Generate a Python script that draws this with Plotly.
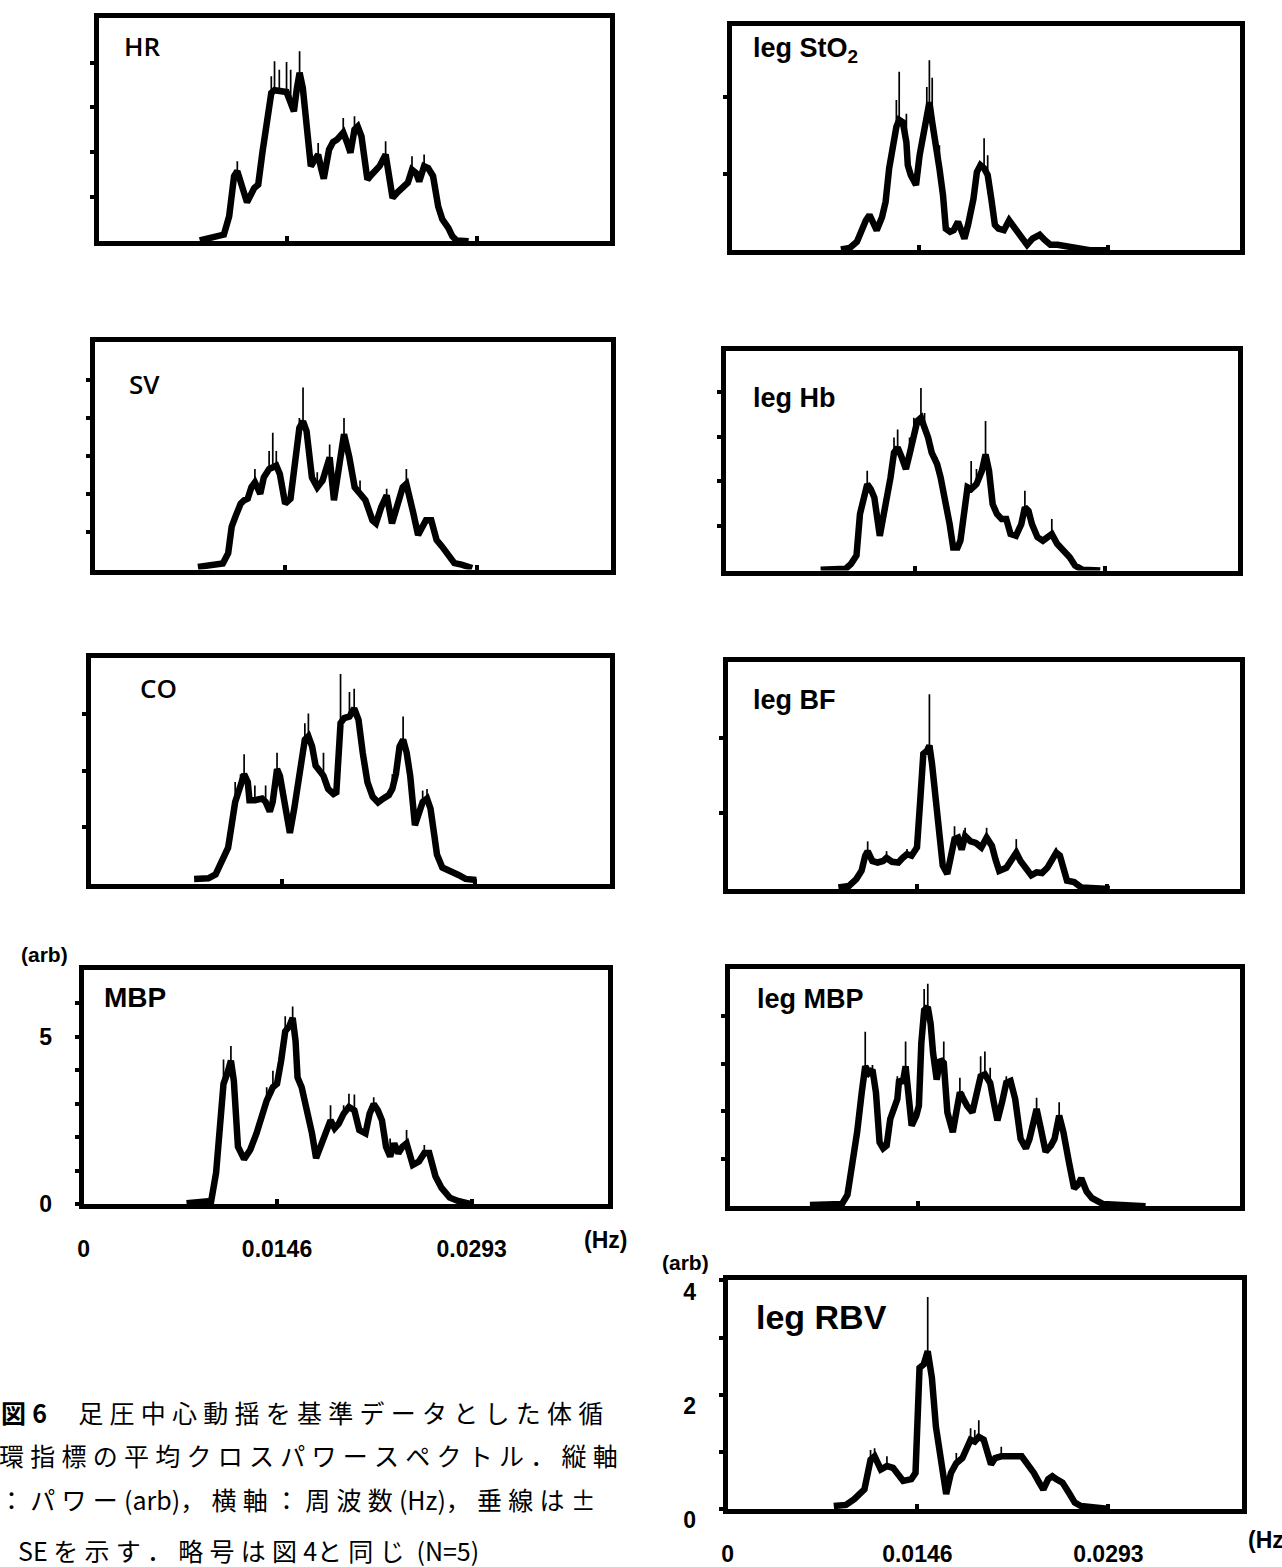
import plotly.graph_objects as go

W, H = 1282, 1567
YS = 1.014  # vertical placement calibration for pixel positions below

# ---------------- data: frequency (Hz), mean cross power (arb), +SE ----------------
hr_f = [0.00783, 0.00923, 0.00970, 0.01011, 0.01049, 0.01074, 0.01111, 0.01149, 0.01205, 0.01236,
        0.01268, 0.01299, 0.01337, 0.01362, 0.01399, 0.01455, 0.01487, 0.01512, 0.01534, 0.01556,
        0.01581, 0.01612, 0.01643, 0.01675, 0.01700, 0.01722, 0.01743, 0.01784, 0.01815, 0.01847,
        0.01894, 0.01925, 0.01950, 0.01981, 0.02006, 0.02035, 0.02081, 0.02113, 0.02175, 0.02222,
        0.02254, 0.02276, 0.02316, 0.02394, 0.02426, 0.02457, 0.02482, 0.02520, 0.02551, 0.02589,
        0.02629, 0.02661, 0.02707, 0.02739, 0.02770, 0.02864]
hr_p = [0.02, 0.11, 0.15, 0.56, 1.46, 1.57, 1.16, 0.87, 1.19, 1.27,
        1.98, 2.65, 3.32, 3.38, 3.36, 3.34, 3.10, 2.91, 3.40, 3.77,
        3.43, 2.57, 1.68, 1.83, 1.94, 1.64, 1.40, 2.05, 2.22, 2.28,
        2.43, 2.20, 1.98, 2.50, 2.57, 2.35, 1.38, 1.49, 1.68, 1.94,
        1.46, 0.97, 1.10, 1.31, 1.60, 1.53, 1.34, 1.68, 1.64, 1.46,
        0.78, 0.49, 0.30, 0.11, 0.02, 0.00]
hr_se = [0, 0, 0, 0, 0, 0.22, 0, 0, 0, 0,
         0, 0, 0.37, 0.65, 0.48, 0.67, 0.74, 0, 0, 0.48,
         0, 0, 0, 0, 0.26, 0, 0, 0, 0, 0,
         0.33, 0, 0, 0.30, 0, 0, 0, 0, 0, 0.30,
         0, 0, 0, 0, 0.30, 0, 0, 0.26, 0, 0,
         0, 0, 0, 0, 0, 0]

sv_f = [0.00792, 0.00874, 0.00983, 0.01024, 0.01051, 0.01079, 0.01120, 0.01147, 0.01174, 0.01202,
        0.01229, 0.01270, 0.01297, 0.01338, 0.01366, 0.01393, 0.01420, 0.01461, 0.01502, 0.01529,
        0.01570, 0.01598, 0.01625, 0.01666, 0.01707, 0.01748, 0.01775, 0.01802, 0.01835, 0.01871,
        0.01912, 0.01953, 0.01994, 0.02035, 0.02076, 0.02130, 0.02157, 0.02198, 0.02239, 0.02280,
        0.02321, 0.02362, 0.02390, 0.02417, 0.02444, 0.02480, 0.02513, 0.02540, 0.02581, 0.02622,
        0.02663, 0.02717, 0.02758, 0.02813, 0.02895]
sv_p = [0.07, 0.12, 0.16, 0.43, 1.13, 1.39, 1.74, 1.83, 1.87, 2.17,
        2.30, 2.00, 2.43, 2.65, 2.70, 2.74, 2.52, 1.74, 1.87, 2.52,
        3.74, 3.91, 3.65, 2.43, 2.17, 2.35, 2.70, 2.96, 1.83, 2.70,
        3.57, 2.96, 2.17, 2.00, 1.83, 1.30, 1.22, 1.65, 1.96, 1.22,
        1.74, 2.17, 2.26, 1.91, 1.48, 0.91, 1.13, 1.30, 1.30, 0.78,
        0.61, 0.35, 0.17, 0.13, 0.04]
sv_se = [0, 0, 0, 0, 0, 0, 0, 0, 0, 0,
         0.35, 0, 0, 0.48, 0.91, 0.39, 0, 0, 0, 0,
         0.26, 0.89, 0, 0, 0.40, 0, 0, 0.34, 0, 0,
         0.43, 0, 0, 0.35, 0, 0, 0, 0, 0.17, 0,
         0, 0, 0.39, 0, 0, 0, 0, 0, 0, 0,
         0, 0, 0, 0, 0]

co_f = [0.00789, 0.00898, 0.00953, 0.01007, 0.01048, 0.01075, 0.01102, 0.01143, 0.01170, 0.01198,
        0.01211, 0.01252, 0.01307, 0.01334, 0.01366, 0.01388, 0.01421, 0.01443, 0.01475, 0.01519,
        0.01552, 0.01592, 0.01633, 0.01660, 0.01688, 0.01715, 0.01748, 0.01775, 0.01810, 0.01851,
        0.01873, 0.01905, 0.01933, 0.01973, 0.02009, 0.02042, 0.02074, 0.02110, 0.02150, 0.02191,
        0.02232, 0.02273, 0.02300, 0.02327, 0.02355, 0.02382, 0.02409, 0.02436, 0.02472, 0.02504,
        0.02531, 0.02564, 0.02591, 0.02619, 0.02640, 0.02681, 0.02749, 0.02804, 0.02858, 0.02940]
co_p = [0.09, 0.10, 0.17, 0.46, 0.64, 1.04, 1.45, 1.74, 1.94, 1.80,
        1.48, 1.48, 1.51, 1.45, 1.28, 1.45, 2.03, 1.91, 1.45, 0.90,
        1.33, 2.03, 2.55, 2.61, 2.43, 2.09, 2.00, 1.91, 1.68, 1.59,
        1.62, 2.84, 2.93, 2.96, 3.10, 2.90, 2.32, 1.80, 1.54, 1.44,
        1.51, 1.57, 1.68, 1.94, 2.43, 2.55, 2.32, 1.91, 1.04, 1.28,
        1.45, 1.51, 1.33, 0.87, 0.52, 0.29, 0.23, 0.16, 0.09, 0.07]
co_se = [0, 0, 0, 0, 0, 0, 0.35, 0.20, 0.35, 0,
         0, 0.26, 0, 0.29, 0, 0, 0.29, 0, 0, 0,
         0, 0, 0.29, 0.40, 0, 0, 0, 0.41, 0, 0,
         0, 0.87, 0, 0.43, 0.35, 0, 0, 0, 0, 0,
         0, 0, 0.26, 0, 0, 0.41, 0, 0, 0, 0,
         0.20, 0.17, 0, 0, 0, 0, 0, 0, 0, 0]

mbp_f = [0.00777, 0.00901, 0.00963, 0.01000, 0.01031, 0.01056, 0.01087, 0.01112, 0.01134, 0.01165,
         0.01211, 0.01258, 0.01305, 0.01351, 0.01382, 0.01429, 0.01460, 0.01491, 0.01522, 0.01553,
         0.01578, 0.01600, 0.01615, 0.01646, 0.01693, 0.01724, 0.01755, 0.01786, 0.01833, 0.01864,
         0.01895, 0.01926, 0.01963, 0.02003, 0.02044, 0.02081, 0.02128, 0.02159, 0.02190, 0.02221,
         0.02252, 0.02283, 0.02314, 0.02345, 0.02376, 0.02407, 0.02438, 0.02485, 0.02531, 0.02572,
         0.02609, 0.02656, 0.02702, 0.02764, 0.02826, 0.02935]
mbp_p = [0.03, 0.07, 0.10, 0.94, 2.32, 3.60, 3.94, 4.29, 3.69, 1.72,
         1.35, 1.63, 2.12, 2.71, 3.10, 3.50, 3.60, 4.29, 5.17, 5.32,
         5.57, 4.88, 3.79, 3.50, 2.71, 2.12, 1.38, 1.72, 2.22, 2.51,
         2.27, 2.41, 2.71, 2.91, 2.81, 2.22, 2.12, 2.71, 3.00, 2.81,
         2.51, 1.72, 1.43, 1.82, 1.53, 1.72, 1.82, 1.18, 1.28, 1.53,
         1.53, 0.84, 0.49, 0.20, 0.10, 0.00]
mbp_se = [0, 0, 0, 0, 0, 0.73, 0, 0.44, 0, 0,
          0, 0, 0, 0, 0.40, 0.49, 0, 0, 0.45, 0,
          0.34, 0, 0, 0, 0, 0, 0, 0, 0, 0.45,
          0, 0, 0.25, 0.39, 0.47, 0, 0, 0, 0.20, 0,
          0, 0, 0.54, 0, 0, 0, 0.40, 0, 0, 0.24,
          0, 0, 0, 0, 0, 0]

sto2_f = [0.00851, 0.00920, 0.00976, 0.01004, 0.01046, 0.01074, 0.01102, 0.01130, 0.01171, 0.01199,
          0.01227, 0.01255, 0.01283, 0.01305, 0.01333, 0.01361, 0.01372, 0.01395, 0.01436, 0.01464,
          0.01492, 0.01520, 0.01540, 0.01562, 0.01590, 0.01618, 0.01646, 0.01668, 0.01701, 0.01729,
          0.01763, 0.01791, 0.01813, 0.01841, 0.01883, 0.01910, 0.01938, 0.01966, 0.01994, 0.02022,
          0.02050, 0.02078, 0.02120, 0.02161, 0.02189, 0.02217, 0.02259, 0.02301, 0.02343, 0.02399,
          0.02440, 0.02482, 0.02538, 0.02622, 0.02705, 0.02789, 0.02928]
sto2_p = [0.01, 0.03, 0.11, 0.24, 0.39, 0.46, 0.35, 0.26, 0.43, 0.63,
          1.07, 1.37, 1.61, 1.70, 1.67, 1.41, 1.11, 0.98, 0.85, 1.24,
          1.50, 1.67, 1.93, 1.67, 1.41, 1.07, 0.72, 0.28, 0.24, 0.26,
          0.37, 0.24, 0.15, 0.33, 0.67, 1.02, 1.11, 1.07, 0.98, 0.67,
          0.33, 0.28, 0.26, 0.39, 0.33, 0.28, 0.17, 0.07, 0.15, 0.20,
          0.13, 0.07, 0.07, 0.04, 0.02, 0.00, 0.00]
sto2_se = [0, 0, 0, 0, 0, 0, 0, 0, 0, 0,
           0, 0, 0.35, 0.63, 0, 0.37, 0, 0, 0, 0,
           0, 0.46, 0.55, 0.58, 0, 0.30, 0, 0, 0, 0,
           0, 0, 0, 0, 0, 0, 0, 0.39, 0.26, 0,
           0, 0, 0, 0, 0, 0, 0, 0, 0, 0,
           0, 0, 0, 0, 0, 0, 0]

hb_f = [0.00734, 0.00928, 0.00969, 0.01011, 0.01038, 0.01066, 0.01094, 0.01121, 0.01149, 0.01191,
        0.01218, 0.01246, 0.01274, 0.01301, 0.01329, 0.01357, 0.01393, 0.01421, 0.01454, 0.01481,
        0.01509, 0.01537, 0.01564, 0.01592, 0.01634, 0.01661, 0.01689, 0.01731, 0.01758, 0.01792,
        0.01814, 0.01841, 0.01869, 0.01897, 0.01938, 0.01980, 0.02008, 0.02035, 0.02063, 0.02096,
        0.02132, 0.02168, 0.02201, 0.02243, 0.02284, 0.02312, 0.02340, 0.02367, 0.02409, 0.02451,
        0.02492, 0.02520, 0.02561, 0.02617, 0.02658, 0.02700, 0.02755, 0.02894]
hb_p = [0.02, 0.04, 0.15, 0.34, 1.27, 1.64, 1.94, 1.83, 1.64, 0.78,
        1.19, 1.57, 2.09, 2.65, 2.76, 2.57, 2.28, 2.61, 3.06, 3.36,
        3.43, 3.21, 2.99, 2.65, 2.39, 2.09, 1.72, 1.04, 0.52, 0.52,
        0.67, 1.19, 1.87, 1.83, 1.94, 2.24, 2.61, 2.24, 1.49, 1.27,
        1.16, 1.16, 0.82, 0.78, 1.04, 1.42, 1.34, 1.04, 0.75, 0.67,
        0.75, 0.82, 0.60, 0.45, 0.30, 0.11, 0.02, 0.00]
hb_se = [0, 0, 0, 0, 0, 0, 0.30, 0, 0, 0,
         0, 0, 0, 0.34, 0.41, 0, 0, 0.38, 0.37, 0,
         0.67, 0.33, 0, 0, 0.15, 0, 0, 0, 0, 0,
         0, 0, 0, 0.63, 0.34, 0, 0.75, 0, 0, 0,
         0, 0, 0, 0, 0, 0.37, 0, 0, 0, 0,
         0, 0.34, 0, 0, 0, 0, 0, 0]

bf_f = [0.00856, 0.00938, 0.00994, 0.01035, 0.01063, 0.01082, 0.01118, 0.01159, 0.01201, 0.01228,
        0.01270, 0.01319, 0.01352, 0.01386, 0.01421, 0.01463, 0.01490, 0.01512, 0.01540, 0.01559,
        0.01579, 0.01606, 0.01634, 0.01662, 0.01697, 0.01725, 0.01753, 0.01780, 0.01808, 0.01835,
        0.01877, 0.01918, 0.01960, 0.02001, 0.02042, 0.02070, 0.02098, 0.02153, 0.02194, 0.02230,
        0.02263, 0.02305, 0.02346, 0.02387, 0.02429, 0.02470, 0.02498, 0.02539, 0.02567, 0.02594,
        0.02622, 0.02677, 0.02732, 0.02843, 0.02953]
bf_p = [0.02, 0.04, 0.13, 0.24, 0.44, 0.50, 0.37, 0.35, 0.37, 0.41,
        0.36, 0.35, 0.41, 0.46, 0.44, 0.55, 1.22, 1.79, 1.83, 1.90,
        1.66, 1.27, 0.74, 0.31, 0.20, 0.39, 0.66, 0.68, 0.52, 0.70,
        0.63, 0.61, 0.55, 0.68, 0.57, 0.39, 0.24, 0.28, 0.39, 0.48,
        0.37, 0.26, 0.18, 0.22, 0.21, 0.28, 0.37, 0.48, 0.44, 0.26,
        0.11, 0.09, 0.02, 0.01, 0.00]
bf_se = [0, 0, 0, 0, 0, 0.13, 0, 0, 0, 0.09,
         0, 0, 0, 0.07, 0, 0, 0, 0, 0, 0.68,
         0, 0, 0, 0, 0, 0, 0.17, 0, 0, 0.11,
         0, 0, 0, 0.13, 0, 0, 0, 0, 0, 0.18,
         0, 0, 0, 0, 0, 0, 0, 0.07, 0, 0,
         0, 0, 0, 0, 0]

lmbp_f = [0.00623, 0.00872, 0.00914, 0.00955, 0.00989, 0.01025, 0.01052, 0.01080, 0.01108, 0.01135,
          0.01163, 0.01191, 0.01218, 0.01246, 0.01274, 0.01301, 0.01315, 0.01343, 0.01365, 0.01385,
          0.01412, 0.01448, 0.01468, 0.01487, 0.01509, 0.01537, 0.01559, 0.01578, 0.01606, 0.01634,
          0.01661, 0.01689, 0.01731, 0.01758, 0.01786, 0.01814, 0.01841, 0.01883, 0.01911, 0.01947,
          0.01980, 0.02021, 0.02049, 0.02077, 0.02113, 0.02146, 0.02179, 0.02215, 0.02257, 0.02298,
          0.02326, 0.02354, 0.02381, 0.02409, 0.02451, 0.02492, 0.02520, 0.02556, 0.02589, 0.02631,
          0.02672, 0.02700, 0.02727, 0.02769, 0.02811, 0.02894, 0.03226]
lmbp_p = [0.03, 0.05, 0.24, 0.87, 1.56, 2.40, 2.95, 2.81, 2.88, 2.40,
          1.35, 1.22, 1.28, 1.84, 2.12, 2.26, 2.67, 2.60, 2.95, 2.26,
          1.70, 1.91, 2.12, 3.44, 4.13, 4.20, 3.85, 3.23, 2.67, 3.09,
          3.02, 1.98, 1.56, 1.98, 2.40, 2.26, 2.12, 1.98, 2.33, 2.74,
          2.78, 2.60, 2.19, 1.81, 2.19, 2.60, 2.64, 2.26, 1.42, 1.22,
          1.42, 1.77, 2.05, 1.70, 1.15, 1.28, 1.42, 1.91, 1.56, 0.94,
          0.38, 0.45, 0.59, 0.31, 0.17, 0.05, 0.00]
lmbp_se = [0, 0, 0, 0, 0, 0, 0.73, 0, 0.10, 0,
           0, 0, 0, 0, 0, 0.48, 0, 0, 0.52, 0,
           0, 0, 0, 0, 0.45, 0.49, 0, 0, 0, 0,
           0.45, 0, 0, 0, 0.31, 0.14, 0, 0, 0, 0.42,
           0.48, 0.32, 0, 0, 0, 0.14, 0, 0, 0, 0,
           0, 0, 0.24, 0, 0, 0, 0, 0.28, 0, 0,
           0, 0, 0, 0, 0, 0, 0]

rbv_f = [0.00817, 0.00911, 0.00974, 0.01053, 0.01100, 0.01131, 0.01179, 0.01226, 0.01273, 0.01304,
         0.01351, 0.01414, 0.01446, 0.01477, 0.01509, 0.01540, 0.01572, 0.01603, 0.01650, 0.01682,
         0.01719, 0.01760, 0.01807, 0.01839, 0.01870, 0.01902, 0.01933, 0.01971, 0.01996, 0.02027,
         0.02059, 0.02106, 0.02263, 0.02310, 0.02357, 0.02398, 0.02430, 0.02467, 0.02499, 0.02530,
         0.02577, 0.02624, 0.02672, 0.02719, 0.02813, 0.02939]
rbv_p = [0.05, 0.07, 0.17, 0.34, 0.86, 0.92, 0.69, 0.75, 0.72, 0.63,
         0.49, 0.52, 0.63, 2.47, 2.53, 2.76, 2.30, 1.44, 0.63, 0.26,
         0.63, 0.80, 0.89, 1.09, 1.21, 1.18, 1.26, 1.21, 1.03, 0.78,
         0.89, 0.92, 0.92, 0.78, 0.63, 0.46, 0.34, 0.52, 0.57, 0.52,
         0.46, 0.29, 0.11, 0.05, 0.03, 0.00]
rbv_se = [0, 0, 0, 0, 0.17, 0.14, 0, 0.17, 0, 0,
          0, 0, 0, 0, 0, 0.95, 0, 0, 0, 0,
          0, 0.18, 0, 0, 0.20, 0.20, 0.29, 0, 0, 0,
          0, 0.17, 0, 0, 0, 0, 0, 0, 0, 0,
          0, 0, 0, 0, 0, 0]

x_ticks = [0, 0.0146, 0.0293]
x_ticktext = ["0", "0.0146", "0.0293"]
X_MAX = 0.0396

caption_lines = [
    "<b>図6</b>　足圧中心動揺を基準データとした体循",
    "環指標の平均クロスパワースペクトル．縦軸",
    "：パワー(arb)，横軸：周波数(Hz)，垂線は±",
    "SE を示す．略号は図4と同じ (N=5)",
]

# ---------------- layout of panels (pixel boxes: left, right, top, bottom) ----------------
panels = [
    dict(f=hr_f, p=hr_p, se=hr_se, ymax=5.0, yt=[1, 2, 3, 4], ylab=None, minor=None, xlab=False,
         box=(93, 607, 16, 242), lab="HR", lxy=(117, 44), lsize=26, lbold=False),
    dict(f=sv_f, p=sv_p, se=sv_se, ymax=6.0, yt=[1, 2, 3, 4, 5], ylab=None, minor=None, xlab=False,
         box=(89, 608, 344, 574), lab="SV", lxy=(122, 386), lsize=26, lbold=False),
    dict(f=co_f, p=co_p, se=co_se, ymax=4.0, yt=[1, 2, 3], ylab=None, minor=None, xlab=False,
         box=(85, 607, 663, 892), lab="CO", lxy=(133, 694), lsize=26, lbold=False),
    dict(f=mbp_f, p=mbp_p, se=mbp_se, ymax=7.0, yt=[0, 5], ylab=["0", "5"], minor=[1, 2, 3, 4, 6],
         xlab=True, box=(78, 605, 979, 1216), lab="MBP", lxy=(96, 1007), lsize=28, lbold=True),
    dict(f=sto2_f, p=sto2_p, se=sto2_se, ymax=2.93, yt=[1, 2], ylab=None, minor=None, xlab=False,
         box=(729, 1240, 24, 251), lab="leg StO<sub>2</sub>", lxy=(749, 49), lsize=27, lbold=True),
    dict(f=hb_f, p=hb_p, se=hb_se, ymax=4.93, yt=[1, 2, 3, 4], ylab=None, minor=None, xlab=False,
         box=(723, 1238, 353, 575), lab="leg Hb", lxy=(749, 400), lsize=27, lbold=True),
    dict(f=bf_f, p=bf_p, se=bf_se, ymax=3.0, yt=[1, 2], ylab=None, minor=None, xlab=False,
         box=(725, 1240, 668, 897), lab="leg BF", lxy=(749, 706), lsize=27, lbold=True),
    dict(f=lmbp_f, p=lmbp_p, se=lmbp_se, ymax=5.0, yt=[1, 2, 3, 4], ylab=None, minor=None, xlab=False,
         box=(727, 1240, 978, 1218), lab="leg MBP", lxy=(753, 1008), lsize=27, lbold=True),
    dict(f=rbv_f, p=rbv_p, se=rbv_se, ymax=4.0, yt=[0, 2, 4], ylab=["0", "2", "4"], minor=[1, 3],
         xlab=True, box=(725, 1242, 1293, 1524), lab="leg RBV", lxy=(752, 1330), lsize=34, lbold=True),
]


def py2paper(py):
    return 1 - (py * YS) / H


LAB_FONT = "Liberation Sans"
fig = go.Figure()
layout = dict(width=W, height=H, margin=dict(l=0, r=0, t=0, b=0),
              paper_bgcolor="white", plot_bgcolor="white", showlegend=False)
annotations = []

for i, pn in enumerate(panels, start=1):
    xs = "" if i == 1 else str(i)
    l, r, t, b = pn["box"]
    fig.add_trace(go.Scatter(
        x=pn["f"], y=pn["p"], mode="lines",
        line=dict(color="black", width=6.5),
        error_y=dict(type="data", symmetric=False, array=pn["se"],
                     arrayminus=[0] * len(pn["se"]), thickness=1.7, width=0, color="black"),
        xaxis="x" + xs, yaxis="y" + xs, hoverinfo="skip"))
    xa = dict(domain=[l / W, r / W], range=[0, X_MAX], anchor="y" + xs,
              showline=True, linecolor="black", linewidth=5, mirror=True,
              showgrid=False, zeroline=False, fixedrange=True,
              ticks="inside", ticklen=5, tickwidth=4, tickcolor="black",
              tickvals=x_ticks, ticktext=x_ticktext, showticklabels=pn["xlab"],
              tickfont=dict(family=LAB_FONT, size=23, color="black", weight="bold"))
    if pn["xlab"]:
        xa["ticklabelstandoff"] = 20 if i == 4 else 21
    ya = dict(domain=[py2paper(b), py2paper(t)], range=[0, pn["ymax"]], anchor="x" + xs,
              showline=True, linecolor="black", linewidth=5, mirror=True,
              showgrid=False, zeroline=False, fixedrange=True,
              ticks="outside", ticklen=4, tickwidth=4, tickcolor="black",
              tickvals=pn["yt"], showticklabels=pn["ylab"] is not None,
              tickfont=dict(family=LAB_FONT, size=23, color="black", weight="bold"))
    if pn["ylab"] is not None:
        ya["ticktext"] = pn["ylab"]
        ya["ticklabelstandoff"] = 18
        if i == 9:
            ya["ticklabelshift"] = 11
    if pn["minor"] is not None:
        ya["minor"] = dict(tickmode="array", tickvals=pn["minor"], ticks="outside",
                           ticklen=4, tickwidth=4, tickcolor="black", showgrid=False)
    layout["xaxis" + xs] = xa
    layout["yaxis" + xs] = ya
    lx, ly = pn["lxy"]
    annotations.append(dict(
        text=pn["lab"], x=lx / W, y=py2paper(ly), xref="paper", yref="paper",
        xanchor="left", yanchor="middle", showarrow=False,
        font=dict(family="Open Sans" if not pn["lbold"] else LAB_FONT, size=pn["lsize"],
                  color="black", weight=600 if not pn["lbold"] else "bold")))

# unit labels
for txt, px, py, anc in [("(arb)", 39, 963, "center"), ("(arb)", 683, 1275, "center"),
                         ("(Hz)", 602, 1252, "center"), ("(Hz)", 1246, 1555, "left")]:
    annotations.append(dict(text=txt, x=px / W, y=py2paper(py), xref="paper", yref="paper",
                            xanchor=anc, yanchor="middle", showarrow=False,
                            font=dict(family=LAB_FONT, size=21 if "arb" in txt else 23,
                                      color="black", weight="bold")))


def spaced(s):
    out = []
    for ch in s:
        out.append(ch)
        if ord(ch) >= 0x3000:
            out.append("\u2005")
    return "".join(out)


for k, (line, px, py) in enumerate(zip(caption_lines, [-7, -9, -9, 10], [1426, 1470, 1514, 1566])):
    annotations.append(dict(text=spaced(line), x=px / W, y=py2paper(py), xref="paper", yref="paper",
                            xanchor="left", yanchor="middle", showarrow=False,
                            font=dict(family="Noto Sans CJK JP", size=25, color="black")))

layout["annotations"] = annotations
fig.update_layout(**layout)
fig.write_html("out.html")
